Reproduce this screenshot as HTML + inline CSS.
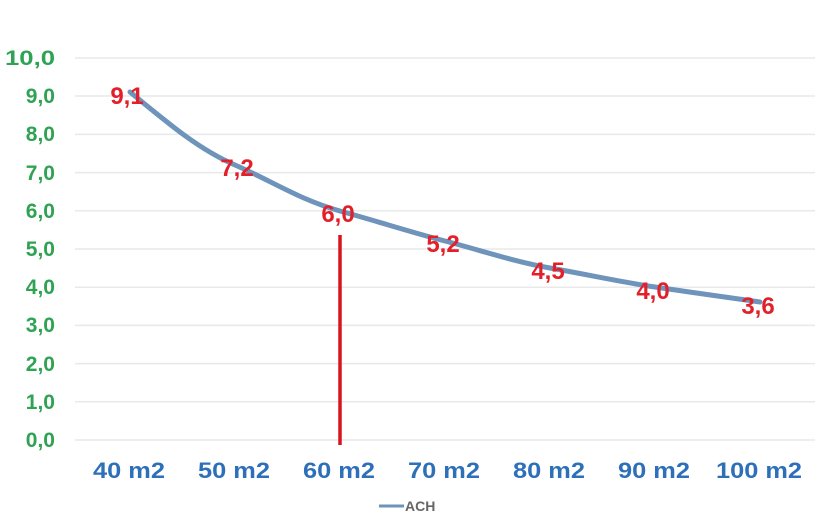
<!DOCTYPE html>
<html><head><meta charset="utf-8"><style>
body{margin:0;background:#fff;}
svg text{font-family:"Liberation Sans",sans-serif;font-weight:bold;}
</style></head><body>
<svg width="824" height="523" viewBox="0 0 824 523">
<g stroke="#e9e9e9" stroke-width="1.5">
<line x1="75" x2="815" y1="58" y2="58"/><line x1="75" x2="815" y1="96" y2="96"/>
<line x1="75" x2="815" y1="134.4" y2="134.4"/><line x1="75" x2="815" y1="172.6" y2="172.6"/>
<line x1="75" x2="815" y1="210.8" y2="210.8"/><line x1="75" x2="815" y1="249" y2="249"/>
<line x1="75" x2="815" y1="287.2" y2="287.2"/><line x1="75" x2="815" y1="325.4" y2="325.4"/>
<line x1="75" x2="815" y1="363.6" y2="363.6"/><line x1="75" x2="815" y1="401.8" y2="401.8"/>
<line x1="75" x2="815" y1="440" y2="440"/>
</g>
<g fill="#2fa353" font-size="21" text-anchor="end">
<text x="55" y="65" textLength="50" lengthAdjust="spacingAndGlyphs">10,0</text><text x="55" y="103">9,0</text><text x="55" y="141">8,0</text>
<text x="55" y="180">7,0</text><text x="55" y="218">6,0</text><text x="55" y="256">5,0</text>
<text x="55" y="294">4,0</text><text x="55" y="332">3,0</text><text x="55" y="371">2,0</text>
<text x="55" y="409">1,0</text><text x="55" y="447">0,0</text>
</g>
<line x1="340" x2="340" y1="235" y2="445" stroke="#d8141c" stroke-width="3.5"/>
<path d="M130,92 C170,125 200,150 235,165 S300,200 340,211 S410,232 445,241 S515,262 550,268 S620,282 655,287 S730,298 760,302" fill="none" stroke="#6e94bb" stroke-width="5" stroke-linecap="round"/>
<g fill="#e3202a" font-size="24" text-anchor="middle">
<text x="127" y="104">9,1</text><text x="237" y="176">7,2</text><text x="338" y="222">6,0</text>
<text x="443" y="252">5,2</text><text x="548" y="279">4,5</text><text x="653" y="299">4,0</text>
<text x="758" y="314">3,6</text>
</g>
<g fill="#2d6fb8" font-size="22" text-anchor="middle">
<text x="129" y="478" textLength="72" lengthAdjust="spacingAndGlyphs">40 m2</text><text x="234" y="478" textLength="72" lengthAdjust="spacingAndGlyphs">50 m2</text><text x="339" y="478" textLength="72" lengthAdjust="spacingAndGlyphs">60 m2</text>
<text x="444" y="478" textLength="72" lengthAdjust="spacingAndGlyphs">70 m2</text><text x="549" y="478" textLength="72" lengthAdjust="spacingAndGlyphs">80 m2</text><text x="654" y="478" textLength="72" lengthAdjust="spacingAndGlyphs">90 m2</text>
<text x="759" y="478" textLength="86" lengthAdjust="spacingAndGlyphs">100 m2</text>
</g>
<line x1="379" x2="404" y1="506" y2="506" stroke="#6e94bb" stroke-width="3"/>
<text x="405" y="511" fill="#666" font-size="14">ACH</text>
</svg>
</body></html>
